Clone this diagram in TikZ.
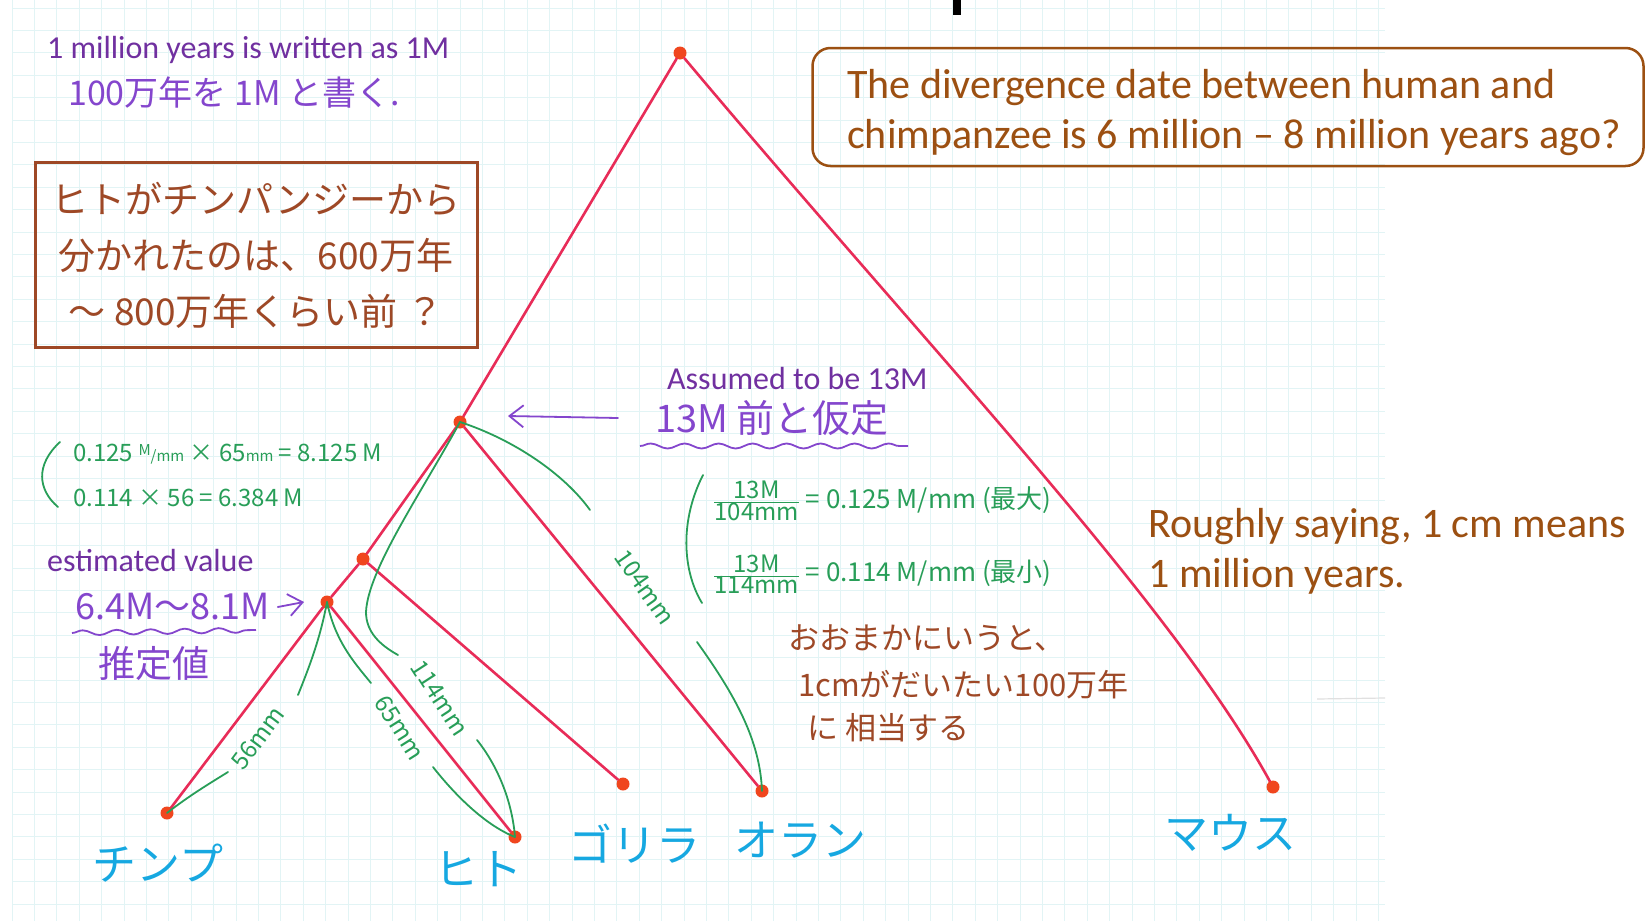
\documentclass[tikz,border=0pt]{standalone}
\usepackage{fontspec}
\setmainfont{Carlito}
\newfontfamily\jpfont{Noto Sans CJK JP}
\usetikzlibrary{arrows.meta,decorations.pathmorphing}
\definecolor{treered}{RGB}{232,44,88}
\definecolor{dotorange}{RGB}{240,70,30}
\definecolor{measgreen}{RGB}{40,158,88}
\definecolor{penpurple}{RGB}{132,70,205}
\definecolor{slidepurple}{RGB}{112,48,160}
\definecolor{penbrown}{RGB}{158,72,38}
\definecolor{slidebrown}{RGB}{156,80,18}
\definecolor{pencyan}{RGB}{22,168,225}
\definecolor{gridcyan}{RGB}{226,244,245}

\begin{document}
\begin{tikzpicture}[x=1pt, y=-1pt,
    gridline/.style={gridcyan, line width=1pt},
    branch/.style={treered, line width=2.6pt, line cap=round},
    tip/.style={circle, fill=dotorange, inner sep=0pt, minimum size=13pt},
    measure/.style={measgreen, line width=1.8pt, line cap=round},
    penarrow/.style={penpurple, line width=1.8pt, line cap=round, -{Straight Barb[length=14pt, width=22pt, line width=1.8pt]}},
    wavy/.style={penpurple, line width=1.8pt, decorate, decoration={snake, amplitude=2.5pt, segment length=34pt}},
    leaf/.style={text=pencyan, inner sep=0pt, font=\jpfont\fontsize{44}{44}\selectfont},
    slide/.style={inner sep=0pt, anchor=base west, font=\fontsize{42}{50}\selectfont},
    note/.style={inner sep=0pt, anchor=base west, text=slidepurple, font=\fontsize{32}{38}\selectfont},
    calc/.style={inner sep=0pt, anchor=west, text=measgreen, font=\jpfont\fontsize{24}{24}\selectfont},
    brownpen/.style={inner sep=0pt, anchor=west, text=penbrown, font=\jpfont\fontsize{31}{31}\selectfont}]
  \fill[white] (0,0) rectangle (1649,921);
  \useasboundingbox (0,0) rectangle (1649,921);
  % graph paper
  \foreach \gx in {12,34.4,...,1385} \draw[gridline] (\gx,0) -- (\gx,921);
  \foreach \gy in {8,30.4,...,921} \draw[gridline] (12,\gy) -- (1385,\gy);
  \draw[black!12, line width=1.2pt] (1317,699) -- (1385,698);
  \fill[black] (953,0) rectangle (961,15);

  % tree
  \node[tip] (root) at (680,53) {};
  \node[tip] (n13) at (460,422) {};
  \node[tip] (nsplit) at (363,559) {};
  \node[tip] (nhc) at (327,602) {};
  \node[tip] (chimp) at (167,813) {};
  \node[tip] (human) at (515,837) {};
  \node[tip] (gorilla) at (623,784) {};
  \node[tip] (orang) at (762,791) {};
  \node[tip] (mouse) at (1273,787) {};
  \draw[branch] (root) -- (n13);
  \draw[branch] (root) .. controls (925,345) and (1170,600) .. (mouse);
  \draw[branch] (n13) -- (nsplit);
  \draw[branch] (n13) -- (orang);
  \draw[branch] (nsplit) -- (nhc);
  \draw[branch] (nsplit) -- (gorilla);
  \draw[branch] (nhc) -- (chimp);
  \draw[branch] (nhc) -- (human);

  \node[leaf] (lchimp) at (158,863) {チンプ};
  \node[leaf] (lhuman) at (478,869) {ヒト};
  \node[leaf] (lgorilla) at (634,844) {ゴリラ};
  \node[leaf] (lorang) at (800,840) {オラン};
  \node[leaf] (lmouse) at (1230,833) {マウス};

  % measured lengths
  \coordinate (m56a) at (298,695);
  \coordinate (m56b) at (228,772);
  \coordinate (m65a) at (371,683);
  \coordinate (m65b) at (433,767);
  \coordinate (m114a) at (398,655);
  \coordinate (m114b) at (477,740);
  \coordinate (m104a) at (590,510);
  \coordinate (m104b) at (697,642);
  \draw[measure] (nhc.center) .. controls (320,640) and (308,670) .. (m56a);
  \draw[measure] (chimp.center) .. controls (190,795) and (212,782) .. (m56b);
  \draw[measure] (nhc.center) .. controls (335,640) and (352,660) .. (m65a);
  \draw[measure] (m65b) .. controls (455,795) and (485,825) .. (human.center);
  \draw[measure] (n13.center) .. controls (420,495) and (368,570) .. (366,612)
    .. controls (366,632) and (380,645) .. (m114a);
  \draw[measure] (m114b) .. controls (497,765) and (512,800) .. (human.center);
  \draw[measure] (n13.center) .. controls (515,440) and (565,475) .. (m104a);
  \draw[measure] (m104b) .. controls (735,695) and (760,740) .. (orang.center);
  \node[calc, anchor=center, rotate=53] (l56) at (258,738) {56mm};
  \node[calc, anchor=center, rotate=-58] (l65) at (400,728) {65mm};
  \node[calc, anchor=center, rotate=-57] (l114) at (440,698) {114mm};
  \node[calc, anchor=center, rotate=-55] (l104) at (645,587) {104mm};

  % notes
  \node[note] (note1m) at (47,58) {1 million years is written as 1M};
  \node[inner sep=0pt, anchor=west, text=penpurple, font=\jpfont\fontsize{34}{34}\selectfont] (jp1m) at (68,93) {100万年を 1M と書く.};
  \node[draw=penbrown, line width=3pt, minimum width=442pt, minimum height=185pt, inner sep=0pt,
    align=center, text=penbrown, font=\jpfont\fontsize{37}{56}\selectfont] (jpbox) at (256,255)
    {ヒトがチンパンジーから\\分かれたのは、600万年\\〜 800万年くらい前 ？};

  \node[draw=slidebrown, line width=2.5pt, rounded corners=18pt, minimum width=831pt, minimum height=118pt,
    inner sep=0pt] (qbox) at (1228,107) {};
  \node[slide, text=slidebrown] (qline1) at (847,98) {The divergence date between human and};
  \node[slide, text=slidebrown] (qline2) at (847,148) {chimpanzee is 6 million -- 8 million years ago?};

  \node[note] (assume) at (667,389) {Assumed to be 13M};
  \node[inner sep=0pt, anchor=west, text=penpurple, font=\jpfont\fontsize{38}{38}\selectfont] (jp13) at (655,418) {13M 前と仮定};
  \draw[wavy] (640,446) -- (908,446);
  \coordinate (a13tip) at (508,416);
  \draw[penarrow] ([xshift=-37pt]jp13.west) -- (a13tip);

  \node[note] (estval) at (47,571) {estimated value};
  \node[inner sep=0pt, anchor=west, text=penpurple, font=\jpfont\fontsize{36}{36}\selectfont] (jpest) at (75,607) {6.4M〜8.1M};
  \draw[wavy] (72,633) -- (256,630);
  \node[inner sep=0pt, anchor=west, text=penpurple, font=\jpfont\fontsize{37}{37}\selectfont] (jpsuitei) at (98,663) {推定値};
  \coordinate (achtip) at (304,602);
  \draw[penarrow] ([xshift=8pt]jpest.east) -- (achtip);

  % rates
  \draw[measure] (60,442) .. controls (35,465) and (38,490) .. (58,507);
  \node[calc] (eqa) at (73,454) {0.125 {\fontsize{15}{15}\selectfont\raisebox{6pt}{M}/mm} × 65{\fontsize{15}{15}\selectfont mm} = 8.125 M};
  \node[calc] (eqb) at (73,498) {0.114 × 56 = 6.384 M};
  \draw[measure] (703,475) .. controls (680,520) and (682,570) .. (702,603);
  \node[calc, font=\jpfont\fontsize{26}{26}\selectfont] (fr1) at (713,501) {$\frac{\mbox{\fontsize{24}{24}\selectfont 13M}}{\mbox{\fontsize{24}{24}\selectfont 104mm}}$ = 0.125 M/mm (最大)};
  \node[calc, font=\jpfont\fontsize{26}{26}\selectfont] (fr2) at (713,574) {$\frac{\mbox{\fontsize{24}{24}\selectfont 13M}}{\mbox{\fontsize{24}{24}\selectfont 114mm}}$ = 0.114 M/mm (最小)};

  \node[brownpen] (jprough1) at (788,638) {おおまかにいうと、};
  \node[brownpen] (jprough2) at (798,685) {1cmがだいたい100万年};
  \node[brownpen] (jprough3) at (807,728) {に 相当する};
  \node[slide, text=slidebrown] (rough1) at (1148,537) {Roughly saying, 1 cm means};
  \node[slide, text=slidebrown] (rough2) at (1148,587) {1 million years.};
\end{tikzpicture}
\end{document}
